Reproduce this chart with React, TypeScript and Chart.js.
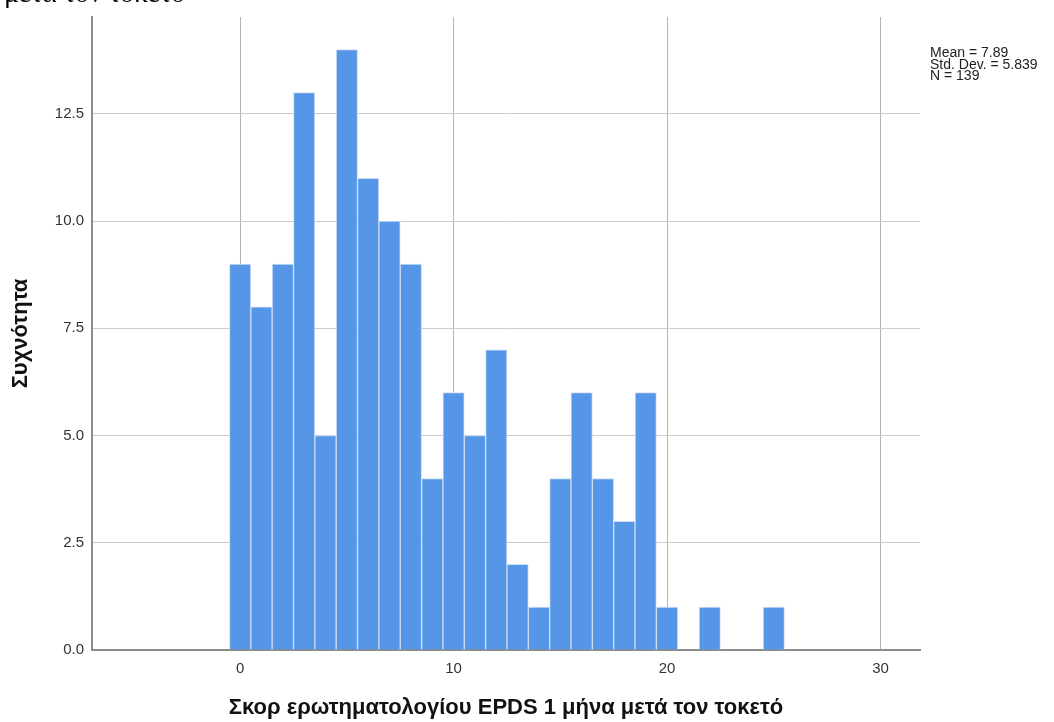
import React, { useEffect, useRef } from "react";
import { Chart, registerables } from "chart.js";

Chart.register(...registerables);

// EPDS score (integer bins) and number of respondents per score
const scores = [0, 1, 2, 3, 4, 5, 6, 7, 8, 9, 10, 11, 12, 13, 14, 15, 16, 17, 18, 19, 20, 21, 22, 23, 24, 25];
const counts = [9, 8, 9, 13, 5, 14, 11, 10, 9, 4, 6, 5, 7, 2, 1, 4, 6, 4, 3, 6, 1, 0, 1, 0, 0, 1];

const xTicks = [0, 10, 20, 30];
const yTicks = [0, 2.5, 5, 7.5, 10, 12.5];

const statLines = ["Mean = 7.89", "Std. Dev. = 5.839", "N = 139"];
const xTitle = "Σκορ ερωτηματολογίου EPDS 1 μήνα μετά τον τοκετό";
const yTitle = "Συχνότητα";
const captionTail = "μετά τον τοκετό";

const W = 1054;
const H = 722;
const SANS = "'Liberation Sans', Arial, sans-serif";

const annotations = {
  id: "annotations",
  afterDraw(chart: any) {
    const ctx = chart.ctx;
    ctx.save();
    ctx.fillStyle = "#222";
    ctx.font = `14px ${SANS}`;
    ctx.textAlign = "left";
    ctx.textBaseline = "alphabetic";
    statLines.forEach((s, i) => ctx.fillText(s, 930, 57 + i * 11.5));
    // tail of the document caption line above the figure
    ctx.fillStyle = "#000";
    ctx.font = "28px 'Liberation Serif', 'Times New Roman', serif";
    ctx.textAlign = "right";
    ctx.fillText(captionTail, 185, 2);
    ctx.restore();
  },
};

export default function App() {
  const ref = useRef<HTMLCanvasElement>(null);
  useEffect(() => {
    if (!ref.current) return;
    const chart = new Chart(ref.current, {
      type: "bar",
      data: {
        datasets: [
          {
            data: scores.map((s, i) => ({ x: s, y: counts[i] })),
            backgroundColor: "#5596e6",
            borderColor: "#cddff7",
            borderWidth: 1,
            barPercentage: 1,
            categoryPercentage: 1,
          },
        ],
      },
      options: {
        animation: false,
        responsive: false,
        maintainAspectRatio: false,
        layout: { padding: { top: 16, right: 134, left: 0, bottom: 0 } },
        plugins: { legend: { display: false }, tooltip: { enabled: false } },
        scales: {
          x: {
            type: "linear",
            min: -6.94,
            max: 31.85,
            offset: false,
            afterBuildTicks: (s: any) => {
              s.ticks = xTicks.map((v) => ({ value: v }));
            },
            afterFit: (s: any) => {
              s.height = 72;
            },
            grid: { color: "#b4b4b4", lineWidth: 1, drawTicks: false, offset: false },
            border: { color: "#8c8c8c", width: 2 },
            ticks: {
              padding: 10,
              color: "#333",
              font: { family: SANS, size: 15 },
              maxRotation: 0,
            },
            title: {
              display: true,
              text: xTitle,
              color: "#111",
              font: { family: SANS, size: 22, weight: "bold" },
              padding: { top: 0, bottom: 1 },
            },
          },
          y: {
            type: "linear",
            min: 0,
            max: 14.76,
            afterBuildTicks: (s: any) => {
              s.ticks = yTicks.map((v) => ({ value: v }));
            },
            afterFit: (s: any) => {
              s.width = 92;
            },
            grid: { color: "#cccccc", lineWidth: 1, drawTicks: false },
            border: { color: "#8c8c8c", width: 2 },
            ticks: {
              padding: 8,
              color: "#333",
              font: { family: SANS, size: 15 },
              callback: (v: any) => Number(v).toFixed(1),
            },
            title: {
              display: true,
              text: yTitle,
              color: "#111",
              font: { family: SANS, size: 22, weight: "bold" },
              padding: { top: 8, bottom: 0 },
            },
          },
        },
      },
      plugins: [annotations],
    });
    return () => chart.destroy();
  }, []);
  return (
    <div style={{ position: "absolute", left: 0, top: 0, width: W, height: H, background: "#fff" }}>
      <canvas ref={ref} width={W} height={H} style={{ display: "block" }} />
    </div>
  );
}
